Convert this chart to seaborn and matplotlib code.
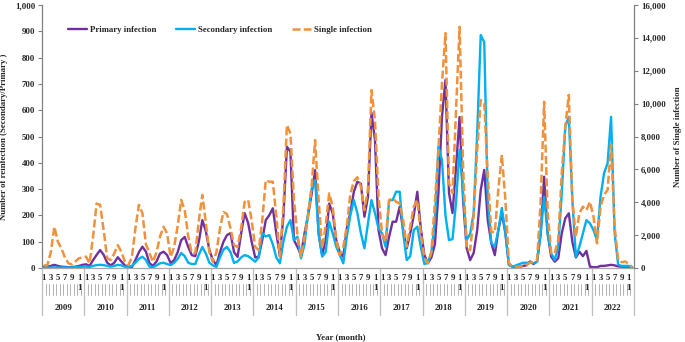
import matplotlib
matplotlib.use("Agg")
import matplotlib.pyplot as plt
import numpy as np
import pandas as pd
import seaborn as sns
from matplotlib.lines import Line2D

years = list(range(2009, 2023))
month_labels = ["1", "", "3", "", "5", "", "7", "", "9", "", "1\n1", ""]

primary = [
    5, 5, 8, 12, 8, 5, 4, 3, 3, 5, 8, 12,
    14, 8, 30, 50, 68, 50, 20, 10, 20, 41, 25, 10,
    5, 3, 30, 60, 81, 62, 18, 8, 25, 55, 62, 49,
    19, 30, 60, 106, 118, 80, 49, 45, 100, 182, 140, 68,
    30, 11, 60, 100, 125, 133, 60, 42, 130, 209, 171, 100,
    40, 43, 106, 182, 201, 227, 132, 49, 195, 461, 442, 106,
    80, 49, 132, 200, 280, 372, 132, 49, 106, 245, 208, 106,
    60, 43, 150, 210, 290, 328, 320, 195, 270, 590, 486, 144,
    75, 49, 119, 176, 176, 233, 144, 75, 132, 200, 290, 150,
    50, 18, 40, 90, 285, 574, 715, 285, 209, 384, 574, 259,
    76, 30, 57, 144, 296, 373, 182, 95, 49, 144, 209, 133,
    12, 5, 5, 5, 8, 10, 25, 15, 25, 130, 347, 130,
    43, 24, 37, 132, 189, 208, 100, 40, 62, 45, 65, 5,
    3, 3, 8, 8, 10, 12, 10, 6, 5, 5, 5, 2,
]

secondary = [
    2, 2, 2, 2, 2, 2, 2, 2, 2, 3, 4, 5,
    5, 4, 8, 11, 12, 11, 8, 5, 8, 12, 10, 5,
    4, 8, 20, 35, 43, 30, 5, 3, 10, 18, 20, 15,
    11, 20, 35, 57, 45, 20, 15, 15, 50, 80, 55, 20,
    10, 4, 40, 70, 80, 60, 19, 25, 40, 49, 45, 35,
    24, 40, 132, 120, 125, 90, 40, 18, 100, 157, 182, 106,
    119, 37, 90, 208, 300, 334, 130, 43, 60, 176, 132, 81,
    50, 18, 120, 200, 258, 208, 132, 75, 170, 258, 208, 150,
    132, 81, 258, 258, 290, 290, 132, 30, 45, 144, 157, 80,
    15, 20, 60, 180, 461, 411, 200, 106, 110, 250, 449, 285,
    106, 130, 209, 513, 886, 859, 259, 95, 81, 144, 228, 133,
    12, 5, 10, 15, 20, 20, 20, 18, 25, 130, 271, 132,
    56, 30, 81, 284, 537, 575, 259, 43, 81, 132, 182, 170,
    144, 106, 271, 360, 398, 575, 133, 12, 8, 8, 8, 3,
]

single = [
    160, 160, 960, 2510, 1600, 1200, 640, 290, 210, 400, 590, 640,
    690, 290, 1920, 3920, 3840, 2300, 590, 480, 880, 1390, 990, 400,
    180, 640, 2400, 3840, 3330, 1440, 900, 380, 960, 1920, 2510, 2100,
    670, 1280, 2560, 4140, 3520, 1920, 910, 910, 2880, 4450, 2740, 960,
    370, 960, 2400, 3410, 3280, 2400, 1390, 1280, 2400, 4020, 4140, 2880,
    1280, 1090, 2880, 5340, 5250, 5250, 3120, 690, 3730, 8690, 8180, 4130,
    2000, 690, 1920, 3120, 4940, 7780, 4130, 1200, 2560, 4540, 3730, 1700,
    780, 1280, 2560, 4480, 5280, 5520, 4940, 3520, 4800, 10820, 8960, 4340,
    2110, 1600, 4130, 4240, 4030, 3920, 2910, 1300, 2510, 3730, 4130, 2110,
    640, 290, 960, 4000, 7200, 11200, 14290, 5170, 4560, 9600, 14670, 6140,
    1120, 1090, 3200, 7180, 10220, 10030, 5600, 2210, 2160, 4800, 6880, 4140,
    300, 80, 80, 80, 130, 190, 320, 400, 480, 4000, 10110, 3360,
    900, 900, 1700, 5760, 8590, 10530, 4140, 1900, 3330, 3730, 3520, 4030,
    3120, 1500, 3730, 4450, 4750, 7500, 2500, 500, 350, 400, 250, 50,
]

series_names = ["Primary infection", "Secondary infection", "Single infection"]
colors = ["#7030A0", "#00B0F0", "#F0913C"]

sns.set_style("ticks")
plt.rcParams["font.family"] = ["Liberation Serif", "DejaVu Serif"]
plt.rcParams["font.weight"] = "bold"
fs = 6.3

n = len(primary)
df = pd.DataFrame({
    "idx": np.arange(n),
    "primary": primary,
    "secondary": secondary,
    "single": single,
})

W, H = 685, 342
fig = plt.figure(figsize=(W / 100, H / 100), dpi=100)
ax = fig.add_axes([42 / W, 1 - 268 / H, 592 / W, 263 / H])
ax2 = ax.twinx()

sns.lineplot(data=df, x="idx", y="primary", ax=ax, color=colors[0], lw=1.7,
             legend=False, solid_joinstyle="round")
sns.lineplot(data=df, x="idx", y="secondary", ax=ax, color=colors[1], lw=1.7,
             legend=False, solid_joinstyle="round")
sns.lineplot(data=df, x="idx", y="single", ax=ax2, color=colors[2], lw=1.8,
             legend=False, dashes=False, linestyle=(0, (3.2, 1.3)))

ax.set_xlim(-0.5, n - 0.5)
ax.set_ylim(0, 1000)
ax2.set_ylim(0, 16000)
ax.set_xticks([])
ax2.set_xticks([])

spine_col = "#808080"
ax.set_yticks(range(0, 1001, 100))
ax.set_yticklabels([f"{v:,}" for v in range(0, 1001, 100)], fontsize=fs, fontweight="bold")
ax2.set_yticks(range(0, 16001, 2000))
ax2.set_yticklabels([f"{v:,}" for v in range(0, 16001, 2000)], fontsize=fs, fontweight="bold")
ax.tick_params(axis="y", direction="out", length=3, width=0.8, color=spine_col, pad=2)
ax2.tick_params(axis="y", direction="out", length=3, width=0.8, color=spine_col, pad=2)

for a in (ax, ax2):
    a.spines["top"].set_visible(False)
ax.spines["right"].set_visible(False)
ax2.spines["left"].set_visible(False)
ax2.spines["bottom"].set_visible(False)
ax.spines["left"].set_color(spine_col)
ax.spines["bottom"].set_color("#A6A6A6")
ax2.spines["right"].set_color(spine_col)
for s in ("left", "bottom"):
    ax.spines[s].set_linewidth(0.9)
ax2.spines["right"].set_linewidth(0.9)

ax.set_xlabel("")
ax.set_ylabel("Number of reinfection (Secondary/Primary )", fontsize=fs, fontweight="bold")
ax.yaxis.set_label_coords(-0.058, 0.5)
ax2.set_ylabel("Number of Single infection", fontsize=fs, fontweight="bold")
ax2.yaxis.set_label_coords(1.068, 0.5)

# multi-level category axis
trans = ax.get_xaxis_transform()
for i in range(n):
    lab = month_labels[i % 12]
    if lab:
        ax.text(i, -0.024, lab, transform=trans, ha="center", va="top",
                fontsize=fs, fontweight="bold", linespacing=1.25)
for i in range(n + 1):
    xb = i - 0.5
    if i % 12 == 0:
        ax.plot([xb, xb], [0, -0.18], transform=trans, color="#BFBFBF",
                lw=0.9, clip_on=False)
    else:
        ax.plot([xb, xb], [-0.062, -0.103], transform=trans, color="#A6A6A6",
                lw=0.6, clip_on=False)
for k, yr in enumerate(years):
    ax.text(12 * k + 5.5, -0.152, str(yr), transform=trans, ha="center",
            va="center", fontsize=fs, fontweight="bold")
ax.text(0.505, -0.262, "Year (month)", transform=ax.transAxes, ha="center",
        va="center", fontsize=fs, fontweight="bold")

handles = [
    Line2D([], [], color=colors[0], lw=1.7),
    Line2D([], [], color=colors[1], lw=1.7),
    Line2D([], [], color=colors[2], lw=1.8, linestyle=(0, (3.2, 1.3))),
]
leg = ax2.legend(handles, series_names, loc="center left",
                 bbox_to_anchor=(0.044, 0.905), ncol=3, frameon=False,
                 fontsize=fs, handlelength=2.2, handletextpad=0.35,
                 columnspacing=2.2, borderpad=0, borderaxespad=0)
for t in leg.get_texts():
    t.set_fontweight("bold")

fig.savefig("out.png", dpi=100)
